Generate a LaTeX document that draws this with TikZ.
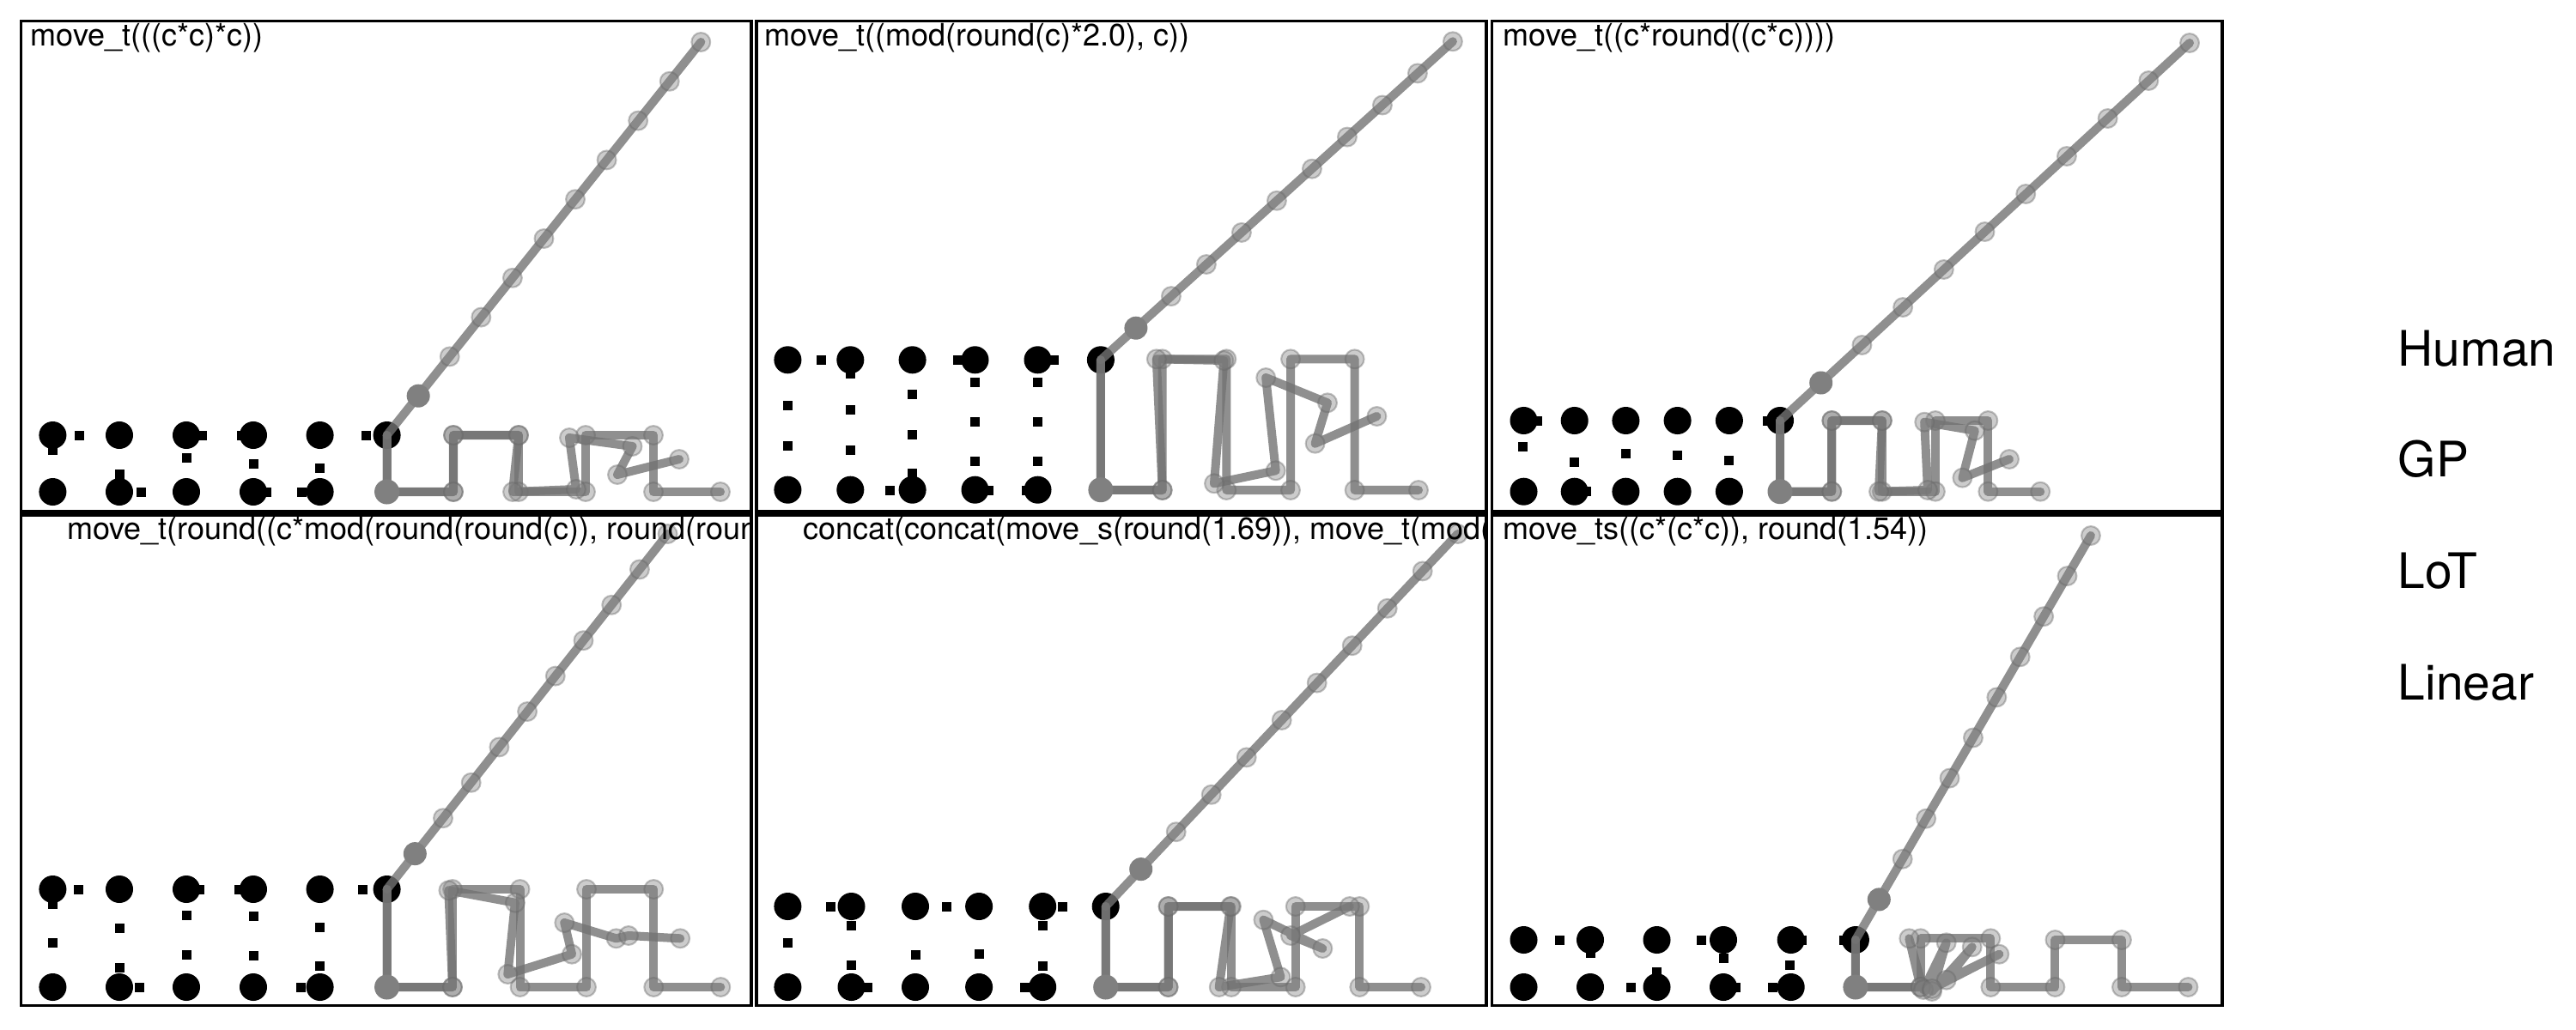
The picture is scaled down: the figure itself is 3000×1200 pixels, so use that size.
\documentclass[tikz,border=0pt]{standalone}
\usepackage{fontspec}
\setmainfont{TeX Gyre Heros}
\newcommand\bdot[2]{\fill[black] (#1,#2) circle (0.16cm);}
\newcommand\bsq[2]{\fill[black] (#1,#2) ++(-5.5,-5.5) rectangle ++(11,11);}
\newcommand\gdark[2]{\fill[black!50] (#1,#2) circle (0.145cm);}
\newcommand\gpath[1]{\draw[gline] plot[mark=*, mark phase=2, mark repeat=1, mark options={lmark}] coordinates {#1};}
\newcommand\lpath[4]{\draw[gline] plot[mark=*, mark phase=2, mark repeat=1, mark options={lmark}, domain=0:10, samples=11] ({#1+#3*\x},{#2+#4*\x});
  \fill[black!50] ({#1+#3},{#2+#4}) circle (0.135cm);}
\begin{document}
\begin{tikzpicture}[x=0.01cm,y=-0.01cm,
  gline/.style={draw=black!55, draw opacity=0.8, line width=2.85pt, line join=round, line cap=round, mark size=3.1pt},
  lmark/.style={fill=black!50, draw=black!60, fill opacity=0.4, draw opacity=0.4, line width=0.6pt, solid},
  frame/.style={draw=black, line width=1.1pt},
  title/.style={anchor=base west, inner sep=0pt, font=\fontsize{10.24pt}{12pt}\selectfont},
  legend/.style={anchor=base west, inner sep=0pt, font=\fontsize{16.2pt}{19pt}\selectfont}]
\useasboundingbox (0,0) rectangle (3000,1200);
\fill[white] (0,0) rectangle (3000,1200);

% ================= Panel TL =================
\foreach \x in {61.4,139,217,295,372.6,450.6} {\bdot{\x}{507}}
\foreach \x in {61.4,139,217,295,372.6} {\bdot{\x}{573}}
\bsq{92}{507}\bsq{61.4}{524}\bsq{139}{552.7}\bsq{164.8}{573}\bsq{235.4}{507}
\bsq{217}{533}\bsq{281}{507}\bsq{295}{540}\bsq{310}{573}\bsq{372.6}{545}
\bsq{351.3}{573}\bsq{426}{507}
\gpath{(450.6,507) (450.6,573) (528,573) (528,507) (604,507) (604,573) (682,573) (682,507) (761,507) (761,573) (839,573)}
\gpath{(450.6,507) (450.6,573) (528,573) (528,507) (604,507) (597,573) (671,570) (663,510) (736.5,520) (719,553) (791,535)}
\lpath{450.6}{507}{36.57}{-45.8}
\gdark{450.6}{573}

% ================= Panel TM =================
\foreach \x in {917.4,990.3,1062.6,1135.5,1208.5,1281.9} {\bdot{\x}{419.3}}
\foreach \x in {917.4,990.3,1062.6,1135.5,1208.5} {\bdot{\x}{570.7}}
\bsq{956.4}{419.3}\bsq{990.3}{435}\bsq{917.4}{472.7}\bsq{917.4}{519.3}
\bsq{990.3}{477.7}\bsq{990.3}{524.3}\bsq{1062.6}{459.3}\bsq{1062.6}{506}
\bsq{1062.6}{551.7}\bsq{1036.2}{571}\bsq{1115.5}{419.3}\bsq{1135.5}{445}
\bsq{1135.5}{491.7}\bsq{1135.5}{537.7}\bsq{1151}{571}\bsq{1227.4}{419.3}
\bsq{1208.5}{445}\bsq{1208.5}{491.7}\bsq{1208.5}{537.7}\bsq{1195.8}{571}
\gpath{(1281.9,419.3) (1281.9,570.7) (1353.7,571) (1353.7,418.3) (1428.3,418.3) (1428.3,571) (1503,571) (1503,418.3) (1577.6,418.3) (1577.6,571) (1652,571)}
\gpath{(1281.9,419.3) (1281.9,570.7) (1353.7,571) (1346.8,418.3) (1425.4,420) (1414,563.3) (1485.7,548.3) (1474.2,440) (1546,469.3) (1531.6,516.7) (1603.4,485)}
\lpath{1281.9}{419.3}{41.0}{-37.1}
\gdark{1281.9}{570.7}

% ================= Panel TR =================
\foreach \x in {1774.5,1833.7,1893.4,1953.6,2013.9,2073} {\bdot{\x}{490}}
\foreach \x in {1774.5,1833.7,1893.4,1953.6,2013.9} {\bdot{\x}{572.7}}
\bsq{1790}{490}\bsq{1773.4}{520}\bsq{1833.7}{538.3}\bsq{1847.4}{572.7}
\bsq{1893.4}{528.3}\bsq{1953.6}{530}\bsq{2013.9}{536.7}\bsq{2058.7}{490}
\gpath{(2073,490) (2073,572.7) (2133.3,572.7) (2133.3,490) (2191.9,490) (2191.9,572.7) (2253.9,572.7) (2253.9,490) (2315.3,490) (2315.3,572.7) (2376.2,572.7)}
\gpath{(2073,490) (2073,572.7) (2133.3,572.7) (2133.3,490) (2191.9,490) (2188,572.7) (2245,571) (2241.2,491.7) (2299.8,501.7) (2285.4,556.7) (2340,535)}
\lpath{2073}{490}{47.7}{-44}
\gdark{2073}{572.7}

% ================= Panel BL =================
\foreach \x in {61.4,139,217,295,372.6,450.6} {\bdot{\x}{1036}}
\foreach \x in {61.4,139,217,295,372.6} {\bdot{\x}{1150}}
\bsq{91.8}{1036}\bsq{61.4}{1053.3}\bsq{61.4}{1098.3}\bsq{139}{1081.7}
\bsq{139}{1127.3}\bsq{162.5}{1150}\bsq{232.5}{1036}\bsq{217}{1066}
\bsq{217}{1112.3}\bsq{278.4}{1036}\bsq{295}{1067.3}\bsq{295}{1113.3}
\bsq{372.6}{1080}\bsq{372.6}{1125.7}\bsq{350.2}{1150}\bsq{422}{1036}
\gpath{(450.6,1036) (450.6,1150) (527,1150) (527,1036) (605.6,1036) (605.6,1150) (683,1150) (683,1036) (761.2,1036) (761.2,1150) (839.3,1150)}
\gpath{(450.6,1036) (450.6,1150) (527,1150) (522.4,1037.3) (599.9,1051.7) (591.3,1135) (666,1111.7) (657.3,1075) (717.6,1093.3) (732,1090) (792.2,1093.3)}
\lpath{450.6}{1036}{32.7}{-41.4}
\gdark{450.6}{1150}

% ================= Panel BM =================
\foreach \x in {917.4,991.5,1066,1140.1,1214.2,1287.7} {\bdot{\x}{1056}}
\foreach \x in {917.4,991.5,1066,1140.1,1214.2} {\bdot{\x}{1150}}
\bsq{967.3}{1056}\bsq{991.5}{1078.3}\bsq{917.4}{1098.3}\bsq{991.5}{1124}
\bsq{1010.4}{1150}\bsq{1102.3}{1056}\bsq{1066}{1112.3}\bsq{1140.1}{1111}
\bsq{1237.2}{1056}\bsq{1214.2}{1078.3}\bsq{1214.2}{1125}\bsq{1193}{1150}
\gpath{(1287.7,1056) (1287.7,1150) (1360.6,1150) (1360.6,1056) (1434,1056) (1434,1150) (1508.7,1150) (1508.7,1056) (1583.3,1056) (1583.3,1150) (1655,1150)}
\gpath{(1287.7,1056) (1287.7,1150) (1360.6,1150) (1360.6,1056) (1433,1056) (1419.7,1150) (1491.5,1138.3) (1471.4,1071.7) (1540.3,1105) (1503,1090) (1571.8,1056)}
\lpath{1287.7}{1056}{41.0}{-43.4}
\gdark{1287.7}{1150}

% ================= Panel BR =================
\foreach \x in {1774.5,1852,1929.5,2007,2085.7,2160.9} {\bdot{\x}{1095}}
\foreach \x in {1774.5,1852,1929.5,2007,2085.7} {\bdot{\x}{1150}}
\bsq{1816.4}{1095}\bsq{1852}{1110}\bsq{1981.2}{1095}\bsq{2007}{1116}
\bsq{2098.9}{1095}\bsq{2084.5}{1124}\bsq{2147.7}{1095}\bsq{1929.5}{1132.7}
\bsq{1899}{1150}\bsq{2021.4}{1150}\bsq{2064.4}{1150}
\gpath{(2160.9,1095) (2160.9,1150) (2236.7,1150) (2236.7,1093.3) (2318.3,1093.3) (2318.3,1150) (2393.4,1150) (2393.4,1095) (2470.9,1095) (2470.9,1150) (2548.4,1150)}
\gpath{(2160.9,1095) (2160.9,1150) (2236.7,1150) (2223.3,1093.3) (2240,1153) (2266.7,1098.3) (2250,1155) (2296.7,1103.3) (2266.7,1141.7) (2328.3,1111.7) (2250,1152)}
\lpath{2160.9}{1095}{27.4}{-47.1}
\gdark{2160.9}{1150}

% ================= Titles (clipped to panels) =================
\begin{scope}\clip (24.5,24.5) rectangle (874.7,595.7);
\node[title] (t1) at (35,53) {move\_t(((c*c)*c))};\end{scope}
\begin{scope}\clip (881,24.5) rectangle (1731.2,595.7);
\node[title] (t2) at (890,53) {move\_t((mod(round(c)*2.0), c))};\end{scope}
\begin{scope}\clip (1737.5,24.5) rectangle (2587.7,595.7);
\node[title] (t3) at (1750,53) {move\_t((c*round((c*c))))};\end{scope}
\begin{scope}\clip (24.5,600.3) rectangle (874.7,1171.5);
\node[title] (t4) at (77.5,628) {move\_t(round((c*mod(round(round(c)), round(round};\end{scope}
\begin{scope}\clip (881,600.3) rectangle (1731.2,1171.5);
\node[title] (t5) at (934.5,628) {concat(concat(move\_s(round(1.69)), move\_t(mod((};\end{scope}
\begin{scope}\clip (1737.5,600.3) rectangle (2587.7,1171.5);
\node[title] (t6) at (1750,628) {move\_ts((c*(c*c)), round(1.54))};\end{scope}

% ================= Frames =================
\draw[frame] (24.5,24.5) rectangle (874.7,595.7);
\draw[frame] (881,24.5) rectangle (1731.2,595.7);
\draw[frame] (1737.5,24.5) rectangle (2587.7,595.7);
\draw[frame] (24.5,600.3) rectangle (874.7,1171.5);
\draw[frame] (881,600.3) rectangle (1731.2,1171.5);
\draw[frame] (1737.5,600.3) rectangle (2587.7,1171.5);

% ================= Legend =================
\node[legend] (lh) at (2792,426) {Human};
\node[legend] (lg) at (2792,555) {GP};
\node[legend] (ll) at (2792,685) {LoT};
\node[legend] (lr) at (2792,815) {Linear};
\end{tikzpicture}
\end{document}
